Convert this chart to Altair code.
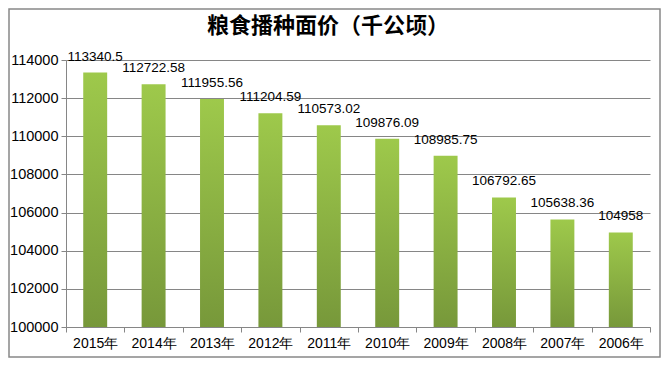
import altair as alt
import pandas as pd

years = ["2015年", "2014年", "2013年", "2012年", "2011年", "2010年", "2009年", "2008年", "2007年", "2006年"]
values = [113340.5, 112722.58, 111955.56, 111204.59, 110573.02, 109876.09, 108985.75, 106792.65, 105638.36, 104958]
labels = ["113340.5", "112722.58", "111955.56", "111204.59", "110573.02", "109876.09", "108985.75", "106792.65", "105638.36", "104958"]
title_text = "粮食播种面价（千公顷）"

df = pd.DataFrame({"year": years, "value": values, "label": labels})

W, H = 584, 267
font = "Liberation Sans"

x = alt.X("year:N", sort=years, title=None,
          scale=alt.Scale(paddingInner=0, paddingOuter=0),
          axis=alt.Axis(labelAngle=0, tickBand="extent", labelFontSize=14, labelColor="#000000",
                        labelFont=font, domainColor="#868686", tickColor="#868686", tickSize=5,
                        labelPadding=4, grid=False))
y = alt.Y("value:Q", title=None,
          scale=alt.Scale(domain=[100000, 114000], nice=False, zero=False, clamp=True),
          axis=alt.Axis(values=list(range(100000, 114001, 2000)), format="d", labelFontSize=14.5,
                        labelColor="#000000", labelFont=font, domainColor="#868686",
                        tickColor="#868686", tickSize=5, gridColor="#868686", gridOpacity=1,
                        labelPadding=3, labelOverlap=False, labelFlush=False))

base = alt.Chart(df).encode(x=x, y=y)

bars = base.mark_bar(
    width=alt.RelativeBandSize(0.41),
    color=alt.Gradient(gradient="linear", x1=0, x2=0, y1=0, y2=1,
                       stops=[alt.GradientStop(offset=0, color="#9ec94b"),
                              alt.GradientStop(offset=1, color="#77983a")])
).encode(y2=alt.datum(100000))

text = base.mark_text(
    baseline="bottom", dy=-9, fontSize=13.5, font=font, color="#000000"
).encode(text="label:N")

one = pd.DataFrame({"t": [title_text]})
border = alt.Chart(one).mark_rect(
    fill=None, stroke="#888888", strokeWidth=1.5
).encode(x=alt.value(-57), x2=alt.value(594), y=alt.value(-51), y2=alt.value(297))

title = alt.Chart(one).mark_text(
    font="Noto Sans CJK SC", fontSize=22, fontWeight="bold", color="#000000",
    align="center", baseline="middle"
).encode(x=alt.value(262), y=alt.value(-34), text="t:N")

chart = alt.layer(bars, text, border, title).properties(
    width=W, height=H,
    padding={"left": 58, "top": 52, "right": 12, "bottom": 31},
    autosize=alt.AutoSizeParams(type="none"),
).configure_view(stroke=None)

chart.save("out.html", embed_options={"renderer": "svg", "actions": False})
